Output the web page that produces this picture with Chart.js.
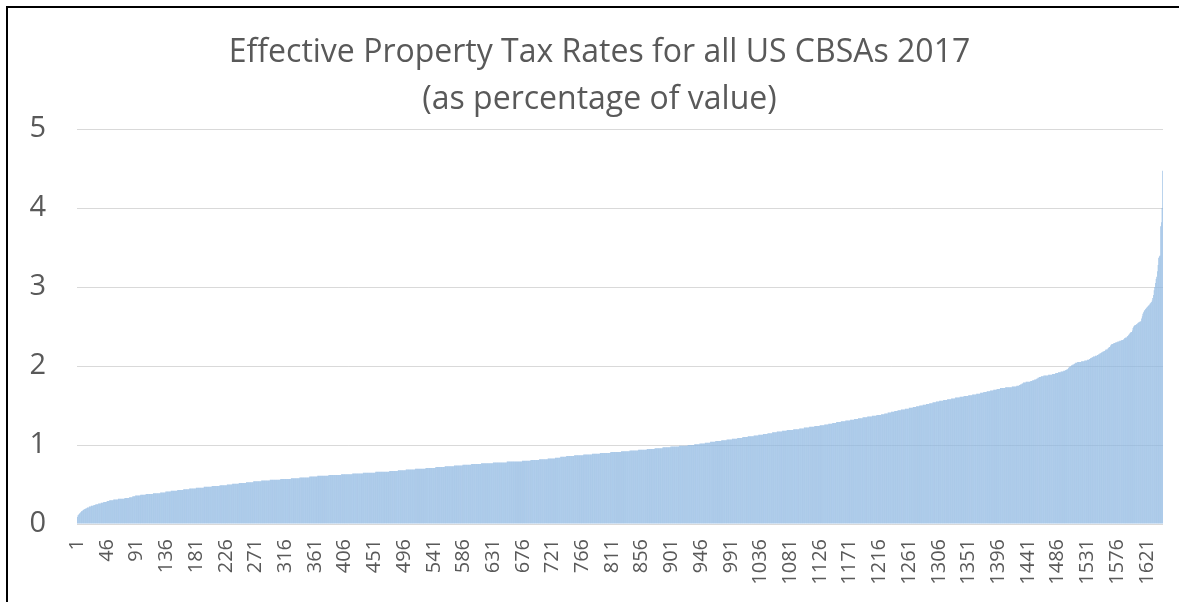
<!DOCTYPE html>
<html>
<head>
<meta charset="utf-8">
<title>Effective Property Tax Rates</title>
<script src="https://cdn.jsdelivr.net/npm/chart.js@4.4.1/dist/chart.umd.min.js"></script>
<style>
    html, body { margin: 0; padding: 0; background: #fff; }
    #wrap { position: relative; width: 1179px; height: 602px; overflow: hidden; }
    #frame { position: absolute; left: 6px; top: 6px; right: -10px; bottom: -10px;
             border-left: 2px solid #000; border-top: 2px solid #000; }
    #chart { position: absolute; left: 0; top: 0; }
</style>
</head>
<body>
<div id="wrap">
    <div id="frame"></div>
    <canvas id="chart" width="1179" height="602"></canvas>
</div>
<script>
const chartTitle = ['Effective Property Tax Rates for all US CBSAs 2017', '(as percentage of value)'];
const yTicks = [0, 1, 2, 3, 4, 5];
const labelStep = 45;

// effective rate per CBSA, sorted ascending (one row = 45 CBSAs)
const rates = [
    0.09,0.11,0.12,0.13,0.14,0.15,0.16,0.16,0.17,0.18,0.18,0.19,0.19,0.20,0.20,0.21,0.21,0.21,0.22,0.22,0.22,0.23,0.23,0.23,0.23,0.24,0.24,0.24,0.25,0.25,0.25,0.25,0.26,0.26,0.26,0.26,0.27,0.27,0.27,0.27,0.28,0.28,0.28,0.28,0.28,
    0.29,0.29,0.29,0.29,0.30,0.30,0.30,0.30,0.30,0.30,0.31,0.31,0.31,0.31,0.31,0.31,0.31,0.32,0.32,0.32,0.32,0.32,0.32,0.32,0.32,0.32,0.32,0.33,0.33,0.33,0.33,0.33,0.33,0.33,0.34,0.34,0.34,0.34,0.34,0.35,0.35,0.35,0.35,0.36,0.36,
    0.36,0.36,0.36,0.36,0.36,0.36,0.37,0.37,0.37,0.37,0.37,0.37,0.37,0.37,0.38,0.38,0.38,0.38,0.38,0.38,0.38,0.38,0.38,0.38,0.38,0.39,0.39,0.39,0.39,0.39,0.39,0.39,0.39,0.39,0.39,0.39,0.40,0.40,0.40,0.40,0.40,0.40,0.40,0.40,0.41,
    0.41,0.41,0.41,0.41,0.41,0.41,0.41,0.42,0.42,0.42,0.42,0.42,0.42,0.42,0.42,0.42,0.42,0.43,0.43,0.43,0.43,0.43,0.43,0.43,0.43,0.43,0.44,0.44,0.44,0.44,0.44,0.44,0.44,0.44,0.44,0.45,0.45,0.45,0.45,0.45,0.45,0.45,0.45,0.45,0.45,
    0.46,0.46,0.46,0.46,0.46,0.46,0.46,0.46,0.46,0.46,0.46,0.46,0.47,0.47,0.47,0.47,0.47,0.47,0.47,0.47,0.47,0.47,0.47,0.47,0.48,0.48,0.48,0.48,0.48,0.48,0.48,0.48,0.48,0.48,0.48,0.48,0.49,0.49,0.49,0.49,0.49,0.49,0.49,0.49,0.49,
    0.49,0.49,0.50,0.50,0.50,0.50,0.50,0.50,0.50,0.50,0.51,0.51,0.51,0.51,0.51,0.51,0.51,0.51,0.51,0.51,0.52,0.52,0.52,0.52,0.52,0.52,0.52,0.52,0.52,0.52,0.52,0.53,0.53,0.53,0.53,0.53,0.53,0.53,0.53,0.53,0.53,0.53,0.54,0.54,0.54,
    0.54,0.54,0.54,0.54,0.54,0.54,0.54,0.54,0.54,0.55,0.55,0.55,0.55,0.55,0.55,0.55,0.55,0.55,0.55,0.55,0.55,0.55,0.56,0.56,0.56,0.56,0.56,0.56,0.56,0.56,0.56,0.56,0.56,0.56,0.56,0.56,0.56,0.56,0.57,0.57,0.57,0.57,0.57,0.57,0.57,
    0.57,0.57,0.57,0.57,0.57,0.57,0.57,0.57,0.57,0.58,0.58,0.58,0.58,0.58,0.58,0.58,0.58,0.58,0.58,0.58,0.58,0.58,0.59,0.59,0.59,0.59,0.59,0.59,0.59,0.59,0.59,0.59,0.59,0.59,0.59,0.59,0.59,0.60,0.60,0.60,0.60,0.60,0.60,0.60,0.60,0.60,
    0.60,0.60,0.60,0.61,0.61,0.61,0.61,0.61,0.61,0.61,0.61,0.61,0.61,0.61,0.61,0.61,0.61,0.61,0.61,0.61,0.62,0.62,0.62,0.62,0.62,0.62,0.62,0.62,0.62,0.62,0.62,0.62,0.62,0.62,0.62,0.62,0.62,0.62,0.62,0.63,0.63,0.63,0.63,0.63,0.63,
    0.63,0.63,0.63,0.63,0.63,0.63,0.63,0.63,0.63,0.63,0.63,0.64,0.64,0.64,0.64,0.64,0.64,0.64,0.64,0.64,0.64,0.64,0.64,0.64,0.64,0.64,0.64,0.65,0.65,0.65,0.65,0.65,0.65,0.65,0.65,0.65,0.65,0.65,0.65,0.65,0.65,0.65,0.65,0.65,0.65,
    0.65,0.66,0.66,0.66,0.66,0.66,0.66,0.66,0.66,0.66,0.66,0.66,0.66,0.66,0.66,0.66,0.66,0.66,0.66,0.66,0.66,0.66,0.67,0.67,0.67,0.67,0.67,0.67,0.67,0.67,0.67,0.67,0.67,0.67,0.67,0.68,0.68,0.68,0.68,0.68,0.68,0.68,0.68,0.68,0.68,
    0.68,0.68,0.69,0.69,0.69,0.69,0.69,0.69,0.69,0.69,0.69,0.69,0.69,0.69,0.69,0.69,0.70,0.70,0.70,0.70,0.70,0.70,0.70,0.70,0.70,0.70,0.70,0.70,0.70,0.70,0.70,0.70,0.71,0.71,0.71,0.71,0.71,0.71,0.71,0.71,0.71,0.71,0.71,0.71,0.71,
    0.71,0.71,0.72,0.72,0.72,0.72,0.72,0.72,0.72,0.72,0.72,0.72,0.72,0.72,0.72,0.72,0.73,0.73,0.73,0.73,0.73,0.73,0.73,0.73,0.73,0.73,0.73,0.73,0.73,0.73,0.74,0.74,0.74,0.74,0.74,0.74,0.74,0.74,0.74,0.74,0.74,0.74,0.74,0.75,0.75,
    0.75,0.75,0.75,0.75,0.75,0.75,0.75,0.75,0.75,0.75,0.75,0.76,0.76,0.76,0.76,0.76,0.76,0.76,0.76,0.76,0.76,0.76,0.76,0.76,0.76,0.76,0.77,0.77,0.77,0.77,0.77,0.77,0.77,0.77,0.77,0.77,0.77,0.77,0.77,0.77,0.77,0.77,0.77,0.77,0.78,
    0.78,0.78,0.78,0.78,0.78,0.78,0.78,0.78,0.78,0.78,0.78,0.78,0.78,0.78,0.78,0.78,0.78,0.78,0.78,0.78,0.79,0.79,0.79,0.79,0.79,0.79,0.79,0.79,0.79,0.79,0.79,0.79,0.79,0.79,0.79,0.79,0.79,0.79,0.79,0.79,0.79,0.79,0.79,0.80,0.80,
    0.80,0.80,0.80,0.80,0.80,0.80,0.80,0.80,0.80,0.80,0.80,0.81,0.81,0.81,0.81,0.81,0.81,0.81,0.81,0.81,0.81,0.81,0.81,0.81,0.82,0.82,0.82,0.82,0.82,0.82,0.82,0.82,0.82,0.82,0.82,0.82,0.82,0.83,0.83,0.83,0.83,0.83,0.83,0.83,0.83,
    0.83,0.83,0.83,0.84,0.84,0.84,0.84,0.84,0.84,0.84,0.84,0.85,0.85,0.85,0.85,0.85,0.85,0.85,0.85,0.85,0.86,0.86,0.86,0.86,0.86,0.86,0.86,0.86,0.86,0.86,0.86,0.86,0.87,0.87,0.87,0.87,0.87,0.87,0.87,0.87,0.87,0.87,0.87,0.87,0.87,
    0.87,0.88,0.88,0.88,0.88,0.88,0.88,0.88,0.88,0.88,0.88,0.88,0.88,0.88,0.89,0.89,0.89,0.89,0.89,0.89,0.89,0.89,0.89,0.89,0.89,0.89,0.90,0.90,0.90,0.90,0.90,0.90,0.90,0.90,0.90,0.90,0.90,0.90,0.90,0.90,0.90,0.90,0.91,0.91,0.91,
    0.91,0.91,0.91,0.91,0.91,0.91,0.91,0.91,0.91,0.91,0.91,0.91,0.91,0.92,0.92,0.92,0.92,0.92,0.92,0.92,0.92,0.92,0.92,0.92,0.92,0.92,0.93,0.93,0.93,0.93,0.93,0.93,0.93,0.93,0.93,0.93,0.93,0.93,0.93,0.94,0.94,0.94,0.94,
    0.94,0.94,0.94,0.94,0.94,0.94,0.94,0.94,0.94,0.95,0.95,0.95,0.95,0.95,0.95,0.95,0.95,0.95,0.95,0.95,0.95,0.96,0.96,0.96,0.96,0.96,0.96,0.96,0.96,0.96,0.96,0.96,0.96,0.97,0.97,0.97,0.97,0.97,0.97,0.97,0.97,0.97,0.97,0.97,0.97,
    0.98,0.98,0.98,0.98,0.98,0.98,0.98,0.98,0.98,0.98,0.98,0.98,0.98,0.99,0.99,0.99,0.99,0.99,0.99,0.99,0.99,0.99,0.99,0.99,0.99,0.99,1.00,1.00,1.00,1.00,1.00,1.00,1.00,1.00,1.00,1.00,1.01,1.01,1.01,1.01,1.01,1.01,1.01,1.01,1.02,
    1.02,1.02,1.02,1.02,1.02,1.02,1.02,1.03,1.03,1.03,1.03,1.03,1.03,1.03,1.03,1.04,1.04,1.04,1.04,1.04,1.04,1.04,1.04,1.05,1.05,1.05,1.05,1.05,1.05,1.05,1.05,1.05,1.06,1.06,1.06,1.06,1.06,1.06,1.06,1.06,1.07,1.07,1.07,1.07,1.07,
    1.07,1.07,1.07,1.08,1.08,1.08,1.08,1.08,1.08,1.08,1.08,1.09,1.09,1.09,1.09,1.09,1.09,1.09,1.09,1.10,1.10,1.10,1.10,1.10,1.10,1.10,1.10,1.11,1.11,1.11,1.11,1.11,1.11,1.11,1.11,1.11,1.12,1.12,1.12,1.12,1.12,1.12,1.12,1.13,1.13,
    1.13,1.13,1.13,1.13,1.13,1.14,1.14,1.14,1.14,1.14,1.14,1.14,1.15,1.15,1.15,1.15,1.15,1.15,1.15,1.16,1.16,1.16,1.16,1.16,1.16,1.16,1.17,1.17,1.17,1.17,1.17,1.17,1.17,1.17,1.18,1.18,1.18,1.18,1.18,1.18,1.18,1.19,1.19,1.19,1.19,
    1.19,1.19,1.19,1.19,1.19,1.19,1.20,1.20,1.20,1.20,1.20,1.20,1.20,1.20,1.20,1.21,1.21,1.21,1.21,1.21,1.21,1.21,1.22,1.22,1.22,1.22,1.22,1.22,1.22,1.22,1.23,1.23,1.23,1.23,1.23,1.23,1.23,1.23,1.24,1.24,1.24,1.24,1.24,1.24,1.24,
    1.24,1.25,1.25,1.25,1.25,1.25,1.25,1.25,1.26,1.26,1.26,1.26,1.26,1.26,1.27,1.27,1.27,1.27,1.27,1.27,1.28,1.28,1.28,1.28,1.28,1.28,1.29,1.29,1.29,1.29,1.29,1.29,1.29,1.30,1.30,1.30,1.30,1.30,1.30,1.30,1.31,1.31,1.31,1.31,1.31,
    1.31,1.31,1.32,1.32,1.32,1.32,1.32,1.32,1.33,1.33,1.33,1.33,1.33,1.33,1.34,1.34,1.34,1.34,1.34,1.34,1.34,1.35,1.35,1.35,1.35,1.35,1.35,1.35,1.36,1.36,1.36,1.36,1.36,1.36,1.36,1.37,1.37,1.37,1.37,1.37,1.37,1.37,1.38,1.38,1.38,
    1.38,1.38,1.38,1.38,1.39,1.39,1.39,1.39,1.39,1.40,1.40,1.40,1.40,1.40,1.41,1.41,1.41,1.41,1.41,1.42,1.42,1.42,1.42,1.42,1.43,1.43,1.43,1.43,1.43,1.44,1.44,1.44,1.44,1.44,1.45,1.45,1.45,1.45,1.45,1.45,1.46,1.46,1.46,1.46,1.46,
    1.46,1.47,1.47,1.47,1.47,1.47,1.47,1.48,1.48,1.48,1.48,1.48,1.49,1.49,1.49,1.49,1.49,1.50,1.50,1.50,1.50,1.50,1.51,1.51,1.51,1.51,1.51,1.52,1.52,1.52,1.52,1.52,1.53,1.53,1.53,1.53,1.53,1.54,1.54,1.54,1.54,1.54,1.55,1.55,1.55,
    1.55,1.55,1.56,1.56,1.56,1.56,1.56,1.56,1.57,1.57,1.57,1.57,1.57,1.57,1.58,1.58,1.58,1.58,1.58,1.58,1.59,1.59,1.59,1.59,1.59,1.59,1.60,1.60,1.60,1.60,1.60,1.60,1.60,1.61,1.61,1.61,1.61,1.61,1.61,1.62,1.62,1.62,1.62,1.62,1.62,
    1.62,1.63,1.63,1.63,1.63,1.63,1.63,1.64,1.64,1.64,1.64,1.64,1.64,1.65,1.65,1.65,1.65,1.65,1.65,1.66,1.66,1.66,1.66,1.66,1.67,1.67,1.67,1.67,1.67,1.68,1.68,1.68,1.68,1.68,1.69,1.69,1.69,1.69,1.69,1.70,1.70,1.70,1.70,1.70,1.71,
    1.71,1.71,1.71,1.71,1.72,1.72,1.72,1.72,1.72,1.72,1.72,1.72,1.73,1.73,1.73,1.73,1.73,1.73,1.73,1.73,1.73,1.73,1.74,1.74,1.74,1.74,1.74,1.74,1.74,1.75,1.75,1.75,1.75,1.76,1.76,1.77,1.77,1.78,1.78,1.79,1.79,1.79,1.79,1.80,1.80,
    1.80,1.80,1.80,1.80,1.80,1.81,1.81,1.81,1.82,1.82,1.82,1.83,1.83,1.83,1.84,1.84,1.85,1.85,1.86,1.86,1.86,1.87,1.87,1.87,1.87,1.88,1.88,1.88,1.88,1.88,1.88,1.88,1.89,1.89,1.89,1.89,1.89,1.89,1.90,1.90,1.90,1.90,1.90,1.91,1.91,
    1.91,1.91,1.92,1.92,1.92,1.92,1.93,1.93,1.93,1.93,1.94,1.94,1.94,1.95,1.95,1.96,1.96,1.97,1.98,1.99,1.99,2.00,2.01,2.01,2.02,2.02,2.03,2.03,2.04,2.04,2.04,2.05,2.05,2.05,2.05,2.05,2.05,2.06,2.06,2.06,2.06,2.06,2.07,2.07,2.07,
    2.07,2.08,2.08,2.08,2.09,2.09,2.10,2.10,2.11,2.11,2.12,2.12,2.12,2.13,2.13,2.13,2.14,2.14,2.15,2.15,2.16,2.16,2.17,2.17,2.18,2.18,2.19,2.19,2.20,2.21,2.21,2.21,2.22,2.23,2.24,2.24,2.26,2.27,2.28,2.28,2.28,2.29,2.29,2.29,2.30,
    2.30,2.30,2.31,2.31,2.31,2.32,2.32,2.32,2.33,2.33,2.33,2.34,2.35,2.35,2.36,2.36,2.37,2.38,2.39,2.40,2.41,2.42,2.43,2.43,2.45,2.48,2.50,2.51,2.52,2.52,2.53,2.53,2.54,2.55,2.55,2.56,2.56,2.57,2.60,2.63,2.66,2.68,2.70,2.71,2.72,
    2.73,2.74,2.75,2.76,2.77,2.78,2.79,2.80,2.81,2.83,2.86,2.90,2.96,3.00,3.05,3.10,3.13,3.20,3.28,3.37,3.39,3.40,3.77,3.82,4.00,4.47
];

const cbsaLabels = rates.map((_, i) => String(i + 1));

const textColor = '#595959';
const gridColor = 'rgba(0, 0, 0, 0.15)';
const barColor = '#8CB6E0';

new Chart(document.getElementById('chart'), {
    type: 'bar',
    data: {
        labels: cbsaLabels,
        datasets: [{
            data: rates,
            backgroundColor: barColor,
            borderWidth: 0,
            barPercentage: 0.9,
            categoryPercentage: 1,
        }],
    },
    options: {
        responsive: false,
        animation: false,
        layout: {
            padding: { left: 20, right: 0, top: 0, bottom: 0 },
        },
        plugins: {
            legend: { display: false },
            tooltip: { enabled: false },
            title: {
                display: true,
                text: chartTitle,
                color: textColor,
                font: { family: 'Open Sans', size: 32, weight: 'normal', lineHeight: '47px' },
                padding: { top: 29, bottom: 6 },
            },
        },
        scales: {
            x: {
                border: { display: false },
                grid: { display: false, drawTicks: false },
                afterFit: scale => {
                    scale.height = 78;
                    scale.paddingLeft = 0;
                    scale.paddingRight = 16;
                },
                ticks: {
                    autoSkip: false,
                    maxRotation: 90,
                    minRotation: 90,
                    padding: 15,
                    color: textColor,
                    font: { family: 'Open Sans', size: 20 },
                    callback: (value, index) => index % labelStep === 0 ? cbsaLabels[index] : '',
                },
            },
            y: {
                min: yTicks[0],
                max: yTicks[yTicks.length - 1],
                z: 1,
                border: { display: false },
                grid: { color: gridColor, lineWidth: 1, drawTicks: false },
                afterFit: scale => { scale.width = 57; },
                afterBuildTicks: scale => { scale.ticks = yTicks.map(v => ({ value: v })); },
                ticks: {
                    padding: 31,
                    color: textColor,
                    font: { family: 'Open Sans', size: 29 },
                },
            },
        },
    },
});
</script>
</body>
</html>
